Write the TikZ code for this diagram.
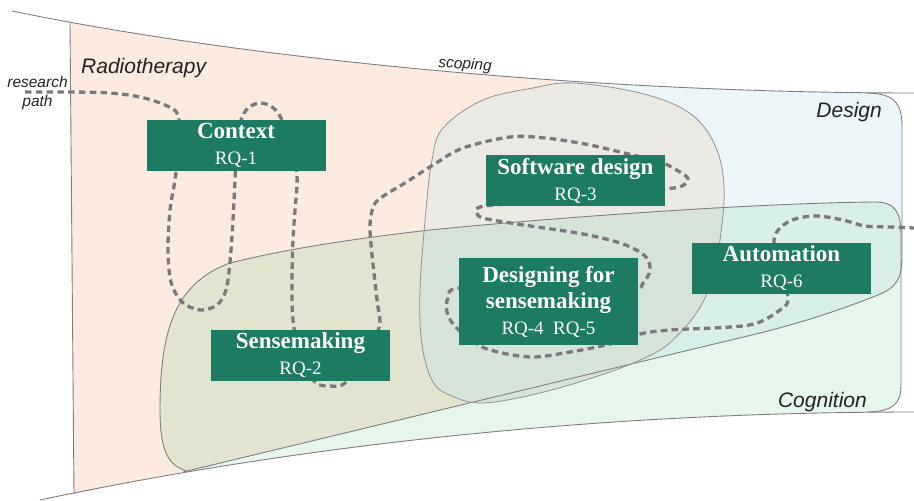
\documentclass[tikz,border=0pt]{standalone}
\usepackage{fontspec}
\setmainfont{Liberation Serif}
\newfontfamily\labelsans{Liberation Sans}
\definecolor{pinkc}{HTML}{FDEBDF}
\definecolor{bluec}{HTML}{ECF6F9}
\definecolor{greenc}{HTML}{E6F6ED}
\definecolor{olivec}{HTML}{E2E4CF}
\definecolor{tealc}{HTML}{D7EFE8}
\definecolor{blobc}{HTML}{EAE9E3}
\definecolor{blobcogc}{HTML}{D6E3D8}
\definecolor{boxgreen}{HTML}{1E7B63}
\definecolor{edgec}{HTML}{7F7F7F}
\definecolor{pathc}{HTML}{7A7A7A}
\definecolor{labelc}{HTML}{222222}

% funnel edges and region outlines
\def\FunTop{(12,11) .. controls (250,60) and (600,93) .. (914,93)}
\def\FunBottom{(40,500) .. controls (300,445) and (600,412) .. (914,412)}
\def\BelowTop{(12,11) .. controls (250,60) and (600,93) .. (914,93) -- (920,93) -- (920,600) -- (0,600) -- (0,11) -- cycle}
\def\AboveBottom{(40,500) .. controls (300,445) and (600,412) .. (914,412) -- (920,412) -- (920,-10) -- (0,-10) -- (0,500) -- cycle}
\def\UFrame{(69.5,-10) -- (74,494) -- (183,472) -- (760,333) .. controls (820,318) and (860,302) .. (878,295) .. controls (898,287) and (902,277) .. (902,255) -- (902,125) .. controls (902,100) and (890,93) .. (865,93) -- (865,-10) -- cycle}
\def\CogEdge{(187,471) .. controls (168,466) and (160,450) .. (160,410) .. controls (160,330) and (175,283) .. (230,263) .. controls (290,248) and (360,238) .. (430,230) .. controls (560,217) and (760,203) .. (875,202) .. controls (895,202) and (901,212) .. (901,235) -- (901,385) .. controls (901,405) and (892,411) .. (868,412)}
\def\CogArea{\CogEdge -- (868,430) -- (187,490) -- cycle}
\def\BlobPath{plot[smooth cycle, tension=0.6] coordinates {(573,83) (640,93) (688,112) (714,143) (724,185) (720,240) (710,285) (697,312) (678,335) (655,353) (607,373) (540,393) (483,403) (452,396) (433,382) (422,345) (420,290) (426,210) (432,160) (443,128) (483,100) (533,88)}}
\def\DesignSide{(578,-10) -- (478,420) -- (920,420) -- (920,-10) -- cycle}

\tikzset{
  edge/.style={draw=edgec, line width=0.9pt},
  blobedge/.style={draw=edgec!85, line width=0.8pt},
  rpath/.style={draw=pathc, line width=3.3pt, dash pattern=on 6.5pt off 4.3pt},
  rqbox/.style={fill=boxgreen, text=white, minimum width=179pt, minimum height=51pt,
    inner sep=0pt, align=center, font=\fontsize{23}{26}\selectfont},
  lbl/.style={text=labelc, inner sep=0pt, font=\labelsans\itshape\fontsize{21}{25}\selectfont},
  lblsmall/.style={text=labelc, inner sep=0pt, align=center, font=\labelsans\itshape\fontsize{15.5}{19}\selectfont},
}
\newcommand{\rqtext}[1]{{\fontsize{19}{26}\selectfont #1}}

\begin{document}
\begin{tikzpicture}[x=1pt,y=-1pt]
\useasboundingbox (0,0) rectangle (914,501);

% radiotherapy and design band
\begin{scope}
  \clip \BelowTop;
  \clip \UFrame;
  \fill[pinkc] (0,-10) rectangle (920,510);
  \fill[bluec] \DesignSide;
\end{scope}

% cognition band and its overlaps
\begin{scope}
  \clip \AboveBottom;
  \fill[greenc] \CogArea;
  \clip \CogArea;
  \clip \BelowTop;
  \clip \UFrame;
  \fill[olivec] (0,-10) rectangle (920,510);
  \fill[tealc] \DesignSide;
\end{scope}

% software design blob
\fill[blobc] \BlobPath;
\begin{scope}
  \clip \BlobPath;
  \clip \AboveBottom;
  \clip \CogArea;
  \fill[blobcogc] (0,-10) rectangle (920,510);
\end{scope}

% outlines
\draw[edge] \FunTop;
\draw[edge] \FunBottom;
\draw[edge] (70,23) -- (74,494);
\draw[edge] (183,472) -- (760,333) .. controls (820,318) and (860,302) .. (878,295) .. controls (898,287) and (902,277) .. (902,255) -- (902,125) .. controls (902,100) and (890,93) .. (865,93);
\draw[edge] \CogEdge;
\draw[blobedge] \BlobPath;

% research path
\draw[rpath] plot[smooth, tension=0.55] coordinates {
  (25,92) (70,92) (110,93) (140,97) (165,105) (178,115)
  (179,145) (175,180) (170,210) (168,250) (171,282) (182,302) (200,310) (217,305) (226,290) (230,262) (233,220) (235,180)
  (237,140) (241,120) (248,108) (260,103) (272,107) (281,118)
  (290,145) (297,175) (295,210) (293,240) (292,283) (293,320)
  (300,355) (315,382) (330,386) (345,383)
  (360,355) (379,328) (377,300) (372,255) (370,225) (374,205) (385,195) (405,183) (433,165) (463,148) (510,137) (545,138) (585,144) (620,152)
  (660,162) (680,172) (688,179) (682,186) (665,189)
  (560,200) (485,206) (477,212) (483,218) (517,224) (583,234) (623,244) (645,256) (650,270) (643,283) (630,290)
  (545,290) (460,288) (448,298) (447,312) (453,324) (465,335) (487,349) (530,357) (570,352) (610,344)
  (640,334) (670,330) (713,328) (742,326) (760,322) (777,312) (788,300)
  (780,265) (774,240) (781,227) (795,219) (817,216) (843,220) (865,226) (890,227) (914,228)};

% research questions
\node[rqbox] (ctx) at (236,145.5) {\textbf{Context}\\\rqtext{RQ-1}};
\node[rqbox] (sw) at (575.5,180.5) {\textbf{Software design}\\\rqtext{RQ-3}};
\node[rqbox] (sm) at (300.5,355.5) {\textbf{Sensemaking}\\\rqtext{RQ-2}};
\node[rqbox, minimum height=87pt] (dfs) at (548.5,301.5) {\textbf{Designing for}\\\textbf{sensemaking}\\\rqtext{RQ-4\ \ RQ-5}};
\node[rqbox] (auto) at (781.5,268.5) {\textbf{Automation}\\\rqtext{RQ-6}};

% region and path labels
\node[lbl, anchor=base west] (radio) at (81,73) {Radiotherapy};
\node[lbl, anchor=base east] (design) at (882,117) {Design};
\node[lbl, anchor=base east] (cog) at (867,407) {Cognition};
\node[lblsmall] (rlabel) at (37.5,93) {research\\path};
\node[lblsmall, rotate=-4] (scoping) at (465,65) {scoping};
\end{tikzpicture}
\end{document}
